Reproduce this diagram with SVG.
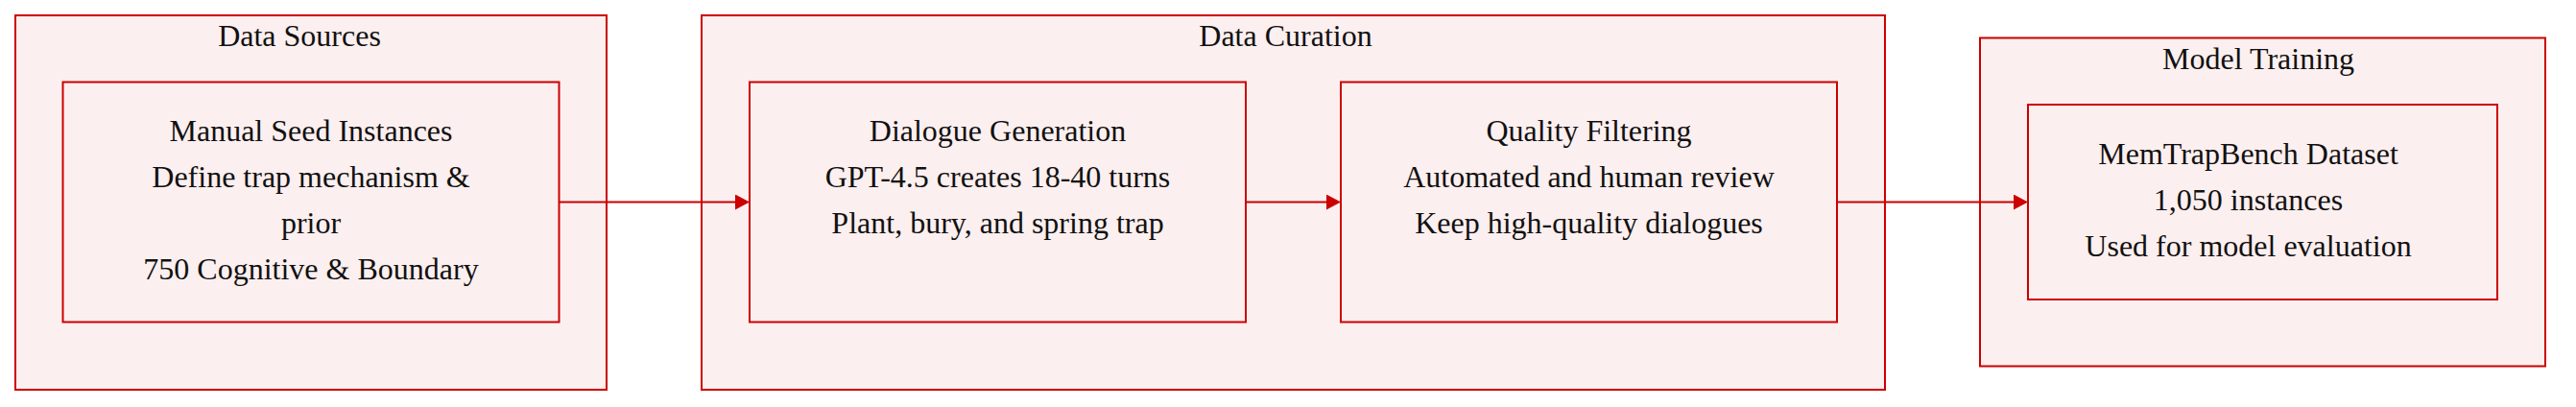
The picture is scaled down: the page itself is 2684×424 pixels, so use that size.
<svg xmlns="http://www.w3.org/2000/svg" width="2684" height="424" viewBox="0 0 2684 424">
<defs>
<style>
.cluster{fill:#fcefef;stroke:#cc0000;stroke-width:2}
.node{fill:#fcefef;stroke:#cc0000;stroke-width:2}
.title,.label{font-family:"Liberation Serif","Times New Roman",serif;font-size:32px;fill:#111111;text-anchor:middle}
.edge{stroke:#cc0000;stroke-width:2;fill:none}
</style>
<marker id="arrow" markerUnits="userSpaceOnUse" markerWidth="15" markerHeight="16" viewBox="0 0 15 16" refX="0" refY="8" orient="auto">
<path d="M0,0 L15,8 L0,16 Z" fill="#cc0000"/>
</marker>
</defs>
<rect width="2684" height="424" fill="#ffffff"/>
<g id="cluster-data-sources">
<rect class="cluster" x="16" y="16" width="616" height="390"/>
<text class="title" x="312" y="48">Data Sources</text>
</g>
<g id="cluster-data-curation">
<rect class="cluster" x="731" y="16" width="1233" height="390"/>
<text class="title" x="1339.5" y="48">Data Curation</text>
</g>
<g id="cluster-model-training">
<rect class="cluster" x="2063" y="39.5" width="589" height="342"/>
<text class="title" x="2353" y="71.5">Model Training</text>
</g>
<g id="node-manual-seed">
<rect class="node" x="65.5" y="85.5" width="517" height="250"/>
<text class="label" x="324" y="146.5">Manual Seed Instances</text>
<text class="label" x="324" y="194.5">Define trap mechanism &amp;</text>
<text class="label" x="324" y="242.5">prior</text>
<text class="label" x="324" y="290.5">750 Cognitive &amp; Boundary</text>
</g>
<g id="node-dialogue-generation">
<rect class="node" x="781" y="85.5" width="517" height="250"/>
<text class="label" x="1039.5" y="146.5">Dialogue Generation</text>
<text class="label" x="1039.5" y="194.5">GPT-4.5 creates 18-40 turns</text>
<text class="label" x="1039.5" y="242.5">Plant, bury, and spring trap</text>
</g>
<g id="node-quality-filtering">
<rect class="node" x="1397" y="85.5" width="517" height="250"/>
<text class="label" x="1655.5" y="146.5">Quality Filtering</text>
<text class="label" x="1655.5" y="194.5">Automated and human review</text>
<text class="label" x="1655.5" y="242.5">Keep high-quality dialogues</text>
</g>
<g id="node-memtrapbench">
<rect class="node" x="2113" y="109" width="489" height="203"/>
<text class="label" x="2342.5" y="170.5">MemTrapBench Dataset</text>
<text class="label" x="2342.5" y="218.5">1,050 instances</text>
<text class="label" x="2342.5" y="266.5">Used for model evaluation</text>
</g>
<g id="connectors">
<line class="edge" x1="582.5" y1="210.5" x2="766" y2="210.5" marker-end="url(#arrow)"/>
<line class="edge" x1="1298" y1="210.5" x2="1382" y2="210.5" marker-end="url(#arrow)"/>
<line class="edge" x1="1914" y1="210.5" x2="2098" y2="210.5" marker-end="url(#arrow)"/>
</g>
</svg>
